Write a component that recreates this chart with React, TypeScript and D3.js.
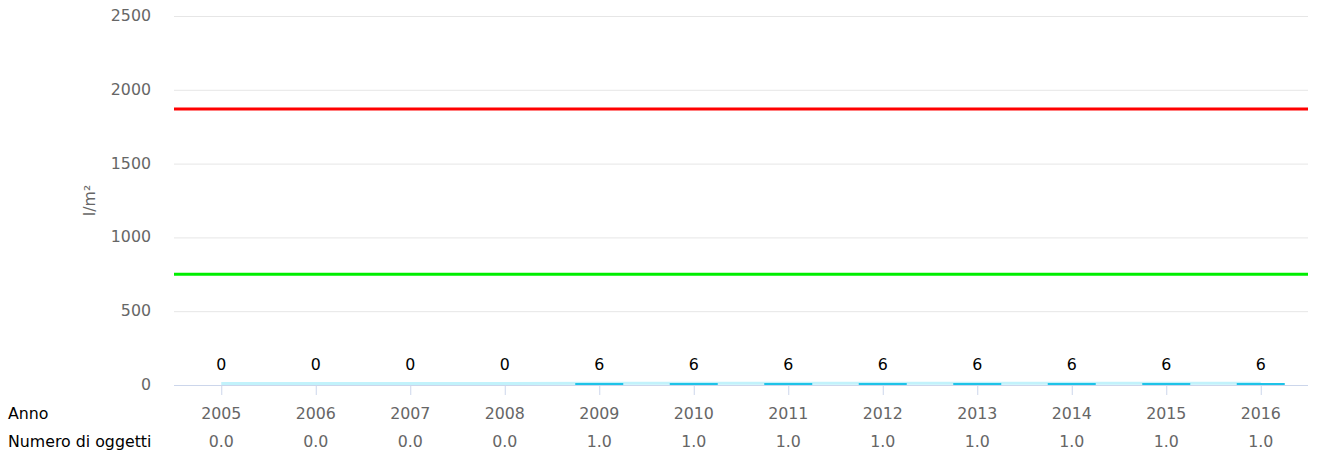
import React from 'react'
import * as d3 from "d3"

const years = ["2005", "2006", "2007", "2008", "2009", "2010", "2011", "2012", "2013", "2014", "2015", "2016"];
const barValues = [0, 0, 0, 0, 6, 6, 6, 6, 6, 6, 6, 6];
const objectCounts = [0, 0, 0, 0, 1, 1, 1, 1, 1, 1, 1, 1];
const yTicks = [0, 500, 1000, 1500, 2000, 2500];
const upperLimit = 1870;
const lowerLimit = 750;

function App() {
    const width = 1318;
    const height = 458;
    const left = 174;
    const right = 1308;
    const top = 16;
    const bottom = 385;
    const font = "'DejaVu Sans', sans-serif";
    const fs = 15.8;

    const x = d3.scaleBand().domain(years).range([left, right]).padding(0);
    const y = d3.scaleLinear().domain([0, 2500]).range([bottom, top]);
    const barW = 48;

    const line = d3
        .line<number>()
        .x((d, i) => x(years[i])! + x.bandwidth() / 2)
        .y(d => y(d) - 1.5);

    return (
        <svg width={width} height={height} style={{ position: "absolute", left: 0, top: 0 }}>
            <rect width={width} height={height} fill="#fff" />
            {/* grid + y labels */}
            {yTicks.map(t => (
                <g key={t}>
                    {t > 0 && <line x1={left} x2={right} y1={y(t) + 0.5} y2={y(t) + 0.5} stroke="#e6e6e6" />}
                    <text x={151} y={y(t) + 5} textAnchor="end" fontFamily={font} fontSize={fs}
                        fill="#666">{t}</text>
                </g>
            ))}
            <text transform={`translate(95, ${(top + bottom) / 2}) rotate(-90)`} textAnchor="middle"
                fontFamily={font} fontSize={fs} fill="#666">l/m²</text>

            {/* limit lines */}
            <line x1={left} x2={right} y1={y(upperLimit)} y2={y(upperLimit)} stroke="#ff0000" strokeWidth={3} />
            <line x1={left} x2={right} y1={y(lowerLimit)} y2={y(lowerLimit)} stroke="#00ee00" strokeWidth={3} />

            {/* x axis */}
            <line x1={left} x2={right} y1={bottom + 0.5} y2={bottom + 0.5} stroke="#ccd6eb" />
            {years.map(yr => (
                <line key={yr} x1={x(yr)! + x.bandwidth() / 2 + 0.5} x2={x(yr)! + x.bandwidth() / 2 + 0.5}
                    y1={bottom} y2={bottom + 10} stroke="#ccd6eb" />
            ))}

            {/* light line series */}
            <path d={line(objectCounts)!} fill="none" stroke="#c2f2fb" strokeWidth={3} />

            {/* bars */}
            {barValues.map((v, i) => {
                const cx = x(years[i])! + x.bandwidth() / 2;
                const top = Math.round(y(v)) - 1;
                const h = v > 0 ? bottom - top : 0;
                return (
                    <g key={i}>
                        {v > 0 && <rect x={cx - barW / 2} y={top} width={barW} height={h} fill="#1ec3e8" />}
                        <text x={cx} y={370} textAnchor="middle" fontFamily={font} fontSize={fs}
                            fill="#000">{v}</text>
                    </g>
                );
            })}

            {/* table rows */}
            <text x={8} y={419} fontFamily={font} fontSize={fs} fill="#000">Anno</text>
            <text x={8} y={447} fontFamily={font} fontSize={fs} fill="#000">Numero di oggetti</text>
            {years.map((yr, i) => {
                const cx = x(yr)! + x.bandwidth() / 2;
                return (
                    <g key={yr}>
                        <text x={cx} y={419} textAnchor="middle" fontFamily={font} fontSize={fs}
                            fill="#666">{yr}</text>
                        <text x={cx} y={447} textAnchor="middle" fontFamily={font} fontSize={fs}
                            fill="#666">{objectCounts[i].toFixed(1)}</text>
                    </g>
                );
            })}
        </svg>
    )
}

export default App
